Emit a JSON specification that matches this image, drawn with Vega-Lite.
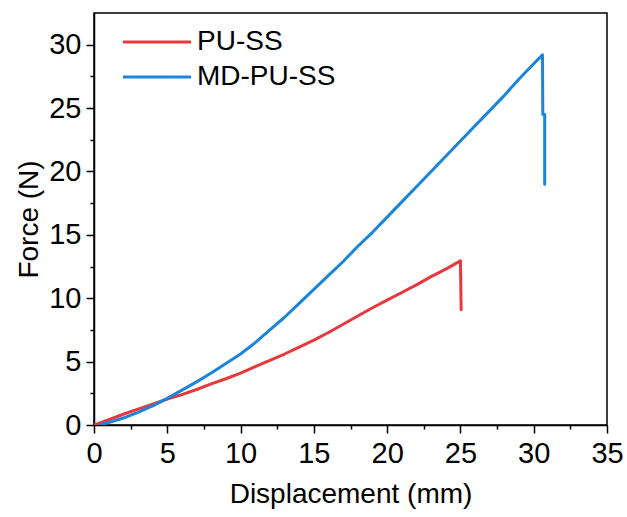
{
  "$schema": "https://vega.github.io/schema/vega-lite/v6.json",
  "width": 513,
  "height": 412,
  "autosize": "none",
  "padding": {"left": 94, "top": 13, "right": 20, "bottom": 92},
  "background": "white",
  "config": {
    "font": "Liberation Sans",
    "view": {"stroke": "black", "strokeWidth": 1.5},
    "axis": {"grid": false, "domainColor": "black", "domainWidth": 1.5, "tickColor": "black", "tickWidth": 1.5, "labelColor": "black", "titleColor": "black", "labelFontSize": 29, "titleFontSize": 28, "titleFontWeight": "normal"}
  },
  "data": {
    "values": [
      {"series": "PU-SS", "i": 0, "x": 0, "y": 0},
      {"series": "PU-SS", "i": 1, "x": 0.5, "y": 0.2},
      {"series": "PU-SS", "i": 2, "x": 1, "y": 0.42},
      {"series": "PU-SS", "i": 3, "x": 2, "y": 0.85},
      {"series": "PU-SS", "i": 4, "x": 3, "y": 1.25},
      {"series": "PU-SS", "i": 5, "x": 4, "y": 1.65},
      {"series": "PU-SS", "i": 6, "x": 5, "y": 2.05},
      {"series": "PU-SS", "i": 7, "x": 6, "y": 2.4},
      {"series": "PU-SS", "i": 8, "x": 7, "y": 2.8},
      {"series": "PU-SS", "i": 9, "x": 8, "y": 3.25},
      {"series": "PU-SS", "i": 10, "x": 9, "y": 3.65},
      {"series": "PU-SS", "i": 11, "x": 10, "y": 4.1},
      {"series": "PU-SS", "i": 12, "x": 11, "y": 4.6},
      {"series": "PU-SS", "i": 13, "x": 12, "y": 5.1},
      {"series": "PU-SS", "i": 14, "x": 13, "y": 5.6},
      {"series": "PU-SS", "i": 15, "x": 14, "y": 6.15},
      {"series": "PU-SS", "i": 16, "x": 15, "y": 6.7},
      {"series": "PU-SS", "i": 17, "x": 16, "y": 7.3},
      {"series": "PU-SS", "i": 18, "x": 17, "y": 7.95},
      {"series": "PU-SS", "i": 19, "x": 18, "y": 8.6},
      {"series": "PU-SS", "i": 20, "x": 19, "y": 9.25},
      {"series": "PU-SS", "i": 21, "x": 20, "y": 9.85},
      {"series": "PU-SS", "i": 22, "x": 21, "y": 10.45},
      {"series": "PU-SS", "i": 23, "x": 22, "y": 11.05},
      {"series": "PU-SS", "i": 24, "x": 23, "y": 11.7},
      {"series": "PU-SS", "i": 25, "x": 24, "y": 12.3},
      {"series": "PU-SS", "i": 26, "x": 25, "y": 12.95},
      {"series": "PU-SS", "i": 27, "x": 25.05, "y": 9.1},
      {"series": "MD-PU-SS", "i": 0, "x": 0.4, "y": 0},
      {"series": "MD-PU-SS", "i": 1, "x": 1, "y": 0.2},
      {"series": "MD-PU-SS", "i": 2, "x": 2, "y": 0.55},
      {"series": "MD-PU-SS", "i": 3, "x": 3, "y": 1.0},
      {"series": "MD-PU-SS", "i": 4, "x": 4, "y": 1.5},
      {"series": "MD-PU-SS", "i": 5, "x": 5, "y": 2.1},
      {"series": "MD-PU-SS", "i": 6, "x": 6, "y": 2.75},
      {"series": "MD-PU-SS", "i": 7, "x": 7, "y": 3.4},
      {"series": "MD-PU-SS", "i": 8, "x": 8, "y": 4.1},
      {"series": "MD-PU-SS", "i": 9, "x": 9, "y": 4.85},
      {"series": "MD-PU-SS", "i": 10, "x": 10, "y": 5.6},
      {"series": "MD-PU-SS", "i": 11, "x": 11, "y": 6.5},
      {"series": "MD-PU-SS", "i": 12, "x": 12, "y": 7.5},
      {"series": "MD-PU-SS", "i": 13, "x": 13, "y": 8.5},
      {"series": "MD-PU-SS", "i": 14, "x": 14, "y": 9.6},
      {"series": "MD-PU-SS", "i": 15, "x": 15, "y": 10.7},
      {"series": "MD-PU-SS", "i": 16, "x": 16, "y": 11.8},
      {"series": "MD-PU-SS", "i": 17, "x": 17, "y": 12.9},
      {"series": "MD-PU-SS", "i": 18, "x": 18, "y": 14.1},
      {"series": "MD-PU-SS", "i": 19, "x": 19, "y": 15.2},
      {"series": "MD-PU-SS", "i": 20, "x": 20, "y": 16.4},
      {"series": "MD-PU-SS", "i": 21, "x": 21, "y": 17.6},
      {"series": "MD-PU-SS", "i": 22, "x": 22, "y": 18.8},
      {"series": "MD-PU-SS", "i": 23, "x": 23, "y": 20.0},
      {"series": "MD-PU-SS", "i": 24, "x": 24, "y": 21.2},
      {"series": "MD-PU-SS", "i": 25, "x": 25, "y": 22.4},
      {"series": "MD-PU-SS", "i": 26, "x": 26, "y": 23.6},
      {"series": "MD-PU-SS", "i": 27, "x": 27, "y": 24.8},
      {"series": "MD-PU-SS", "i": 28, "x": 28, "y": 26.0},
      {"series": "MD-PU-SS", "i": 29, "x": 29, "y": 27.3},
      {"series": "MD-PU-SS", "i": 30, "x": 30, "y": 28.5},
      {"series": "MD-PU-SS", "i": 31, "x": 30.6, "y": 29.2},
      {"series": "MD-PU-SS", "i": 32, "x": 30.62, "y": 24.5},
      {"series": "MD-PU-SS", "i": 33, "x": 30.75, "y": 24.5},
      {"series": "MD-PU-SS", "i": 34, "x": 30.75, "y": 19}
    ]
  },
  "mark": {"type": "line", "strokeWidth": 3, "strokeCap": "round", "strokeJoin": "round", "clip": true},
  "encoding": {
    "x": {
      "field": "x", "type": "quantitative",
      "scale": {"domain": [0, 35], "nice": false, "zero": false},
      "axis": {
        "title": "Displacement (mm)",
        "values": [0, 2.5, 5, 7.5, 10, 12.5, 15, 17.5, 20, 22.5, 25, 27.5, 30, 32.5, 35],
        "labelExpr": "datum.value % 5 === 0 ? datum.label : ''",
        "tickSize": {"condition": {"test": "datum.value % 5 === 0", "value": 8}, "value": 4},
        "labelPadding": 6,
        "titlePadding": 12,
        "labelFlush": false
      }
    },
    "y": {
      "field": "y", "type": "quantitative",
      "scale": {"domain": [0, 32.5], "nice": false, "zero": false},
      "axis": {
        "title": "Force (N)",
        "values": [0, 2.5, 5, 7.5, 10, 12.5, 15, 17.5, 20, 22.5, 25, 27.5, 30],
        "labelExpr": "datum.value % 5 === 0 ? datum.label : ''",
        "tickSize": {"condition": {"test": "datum.value % 5 === 0", "value": 8}, "value": 4},
        "labelPadding": 5,
        "titlePadding": 5,
        "labelFlush": false
      }
    },
    "color": {
      "field": "series", "type": "nominal",
      "scale": {"domain": ["PU-SS", "MD-PU-SS"], "range": ["#E8383D", "#1B84DB"]},
      "legend": {
        "title": null,
        "orient": "none",
        "legendX": 49,
        "legendY": 15,
        "symbolType": "M-3,0H3",
        "symbolSize": 514,
        "symbolStrokeWidth": 3,
        "labelFontSize": 28,
        "labelColor": "black",
        "labelOffset": 26,
        "rowPadding": 7
      }
    },
    "order": {"field": "i", "type": "quantitative"}
  }
}
